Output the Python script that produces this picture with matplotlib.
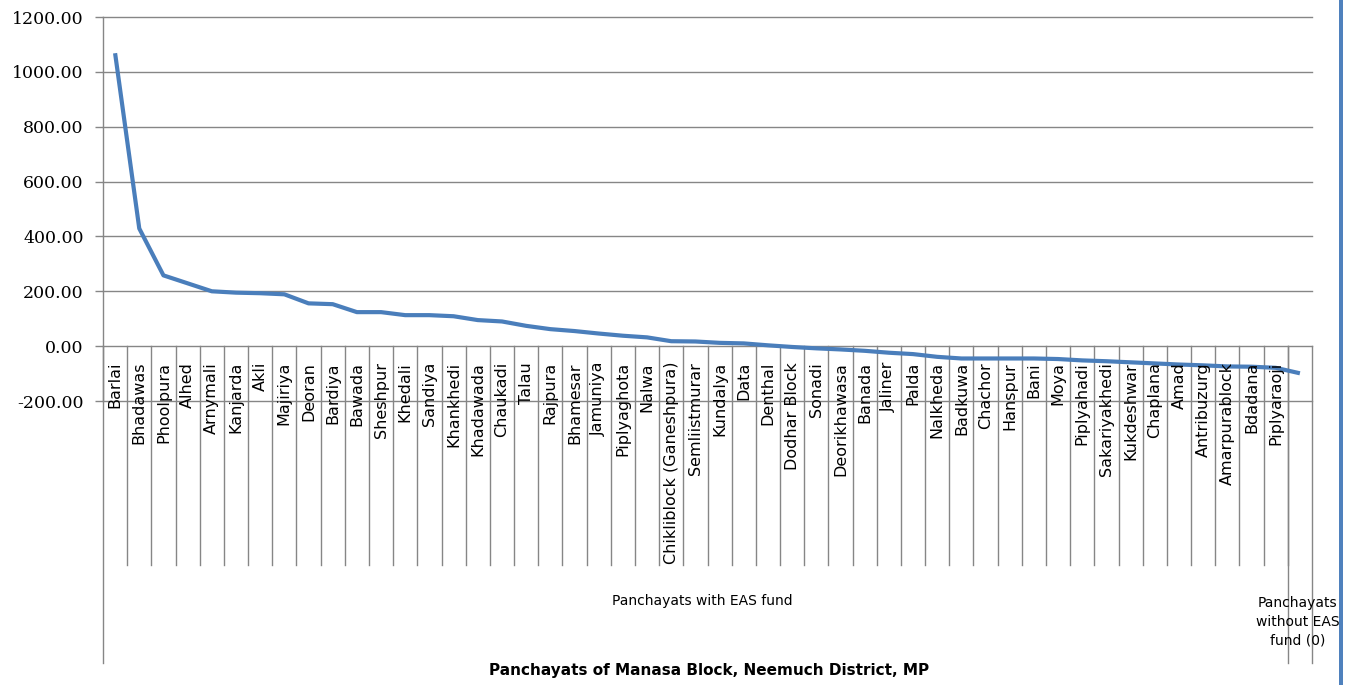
import matplotlib
matplotlib.use("Agg")
import matplotlib.pyplot as plt
import matplotlib.transforms as mtransforms
from matplotlib.patches import Rectangle

# ---- data ----
panchayats = ["Barlai", "Bhadawas", "Phoolpura", "Alhed", "Arnymali", "Kanjarda", "Akli",
              "Majiriya", "Deoran", "Bardiya", "Bawada", "Sheshpur", "Khedali", "Sandiya",
              "Khankhedi", "Khadawada", "Chaukadi", "Talau", "Rajpura", "Bhamesar", "Jamuniya",
              "Piplyaghota", "Nalwa", "Chikliblock (Ganeshpura)", "Semliistmurar", "Kundalya",
              "Data", "Denthal", "Dodhar Block", "Sonadi", "Deorikhawasa", "Banada", "Jaliner",
              "Palda", "Nalkheda", "Badkuwa", "Chachor", "Hanspur", "Bani", "Moya", "Piplyahadi",
              "Sakariyakhedi", "Kukdeshwar", "Chaplana", "Amad", "Antribuzurg", "Amarpurablock",
              "Bdadana", "Piplyaraoji", ""]
values = [1068, 429, 258, 229, 200, 195, 193, 189, 156, 153, 124, 124, 113, 113, 109, 95, 90,
          74, 62, 55, 46, 38, 32, 18, 17, 12, 10, 3, -3, -8, -12, -17, -24, -29, -39, -45, -45,
          -45, -45, -47, -52, -55, -59, -63, -67, -70, -74, -75, -79, -99]
groups = ["Panchayats with EAS fund", "Panchayats\nwithout EAS\nfund (0)"]
group_sizes = [49, 1]
y_ticks = [-200, 0, 200, 400, 600, 800, 1000, 1200]
x_title = "Panchayats of Manasa Block, Neemuch District, MP"

W, H = 1355, 685
fig = plt.figure(figsize=(W / 100, H / 100), dpi=100)
ax = fig.add_axes([103 / W, 1 - 401 / H, (1312 - 103) / W, (401 - 17) / H])

grid_c = "#868686"
line_c = "#4A7EBB"

n = len(values)
xs = list(range(n))
ax.plot(xs, values, color=line_c, lw=3.0, solid_joinstyle="round", solid_capstyle="butt",
        zorder=3)

ax.set_xlim(-0.5, n - 0.5)
ax.set_ylim(-200, 1200)
ax.set_yticks(y_ticks)
ax.set_yticklabels([f"{v:.2f}" for v in y_ticks], family="DejaVu Serif", fontsize=12.5)
ax.tick_params(axis="y", length=6, width=1, color=grid_c, pad=8)
ax.set_xticks([])
for v in y_ticks:
    ax.axhline(v, color=grid_c, lw=1.0, zorder=1, clip_on=False)
for s in ["top", "right", "bottom"]:
    ax.spines[s].set_visible(False)
ax.spines["left"].set_color(grid_c)
ax.spines["left"].set_linewidth(1.0)

trans = mtransforms.blended_transform_factory(ax.transData, fig.transFigure)
def fy(py):
    return 1 - py / H

y_axis = fy(346)
y_lvl1 = fy(565)
y_lvl2 = fy(663)

# level-1 boundaries
for k in range(1, n):
    b = k - 0.5
    ax.plot([b, b], [y_axis, y_lvl1], transform=trans, color=grid_c, lw=1.0, clip_on=False)
# group boundaries (long)
edges = [-0.5]
acc = -0.5
for g in group_sizes:
    acc += g
    edges.append(acc)
for b in edges:
    ax.plot([b, b], [y_axis, y_lvl2], transform=trans, color=grid_c, lw=1.0, clip_on=False)

# category labels
for i, name in enumerate(panchayats):
    if name:
        ax.text(i, fy(362), name, transform=trans, rotation=90, ha="center", va="top",
                fontsize=11.5, family="DejaVu Sans", zorder=4)

# group labels
for gi, g in enumerate(groups):
    c = (edges[gi] + edges[gi + 1]) / 2
    if gi == 0:
        ax.text(c + 0.3, fy(601), g, transform=trans, ha="center", va="center", fontsize=10)
    else:
        ax.text(c - 0.1, fy(622), g, transform=trans, ha="center", va="center", fontsize=10,
                linespacing=1.45)

fig.text(709 / W, fy(670), x_title, ha="center", va="center", fontsize=11, fontweight="bold")

# right side decoration
fig.patches.append(Rectangle((1339 / W, 0), (W - 1339) / W, 1, transform=fig.transFigure,
                             facecolor="white", edgecolor="none", zorder=10))
fig.patches.append(Rectangle((1339 / W, 0), 4 / W, 1, transform=fig.transFigure,
                             facecolor="#4F81BD", edgecolor="none", zorder=11))

fig.savefig("out.png", dpi=100, facecolor="white")
